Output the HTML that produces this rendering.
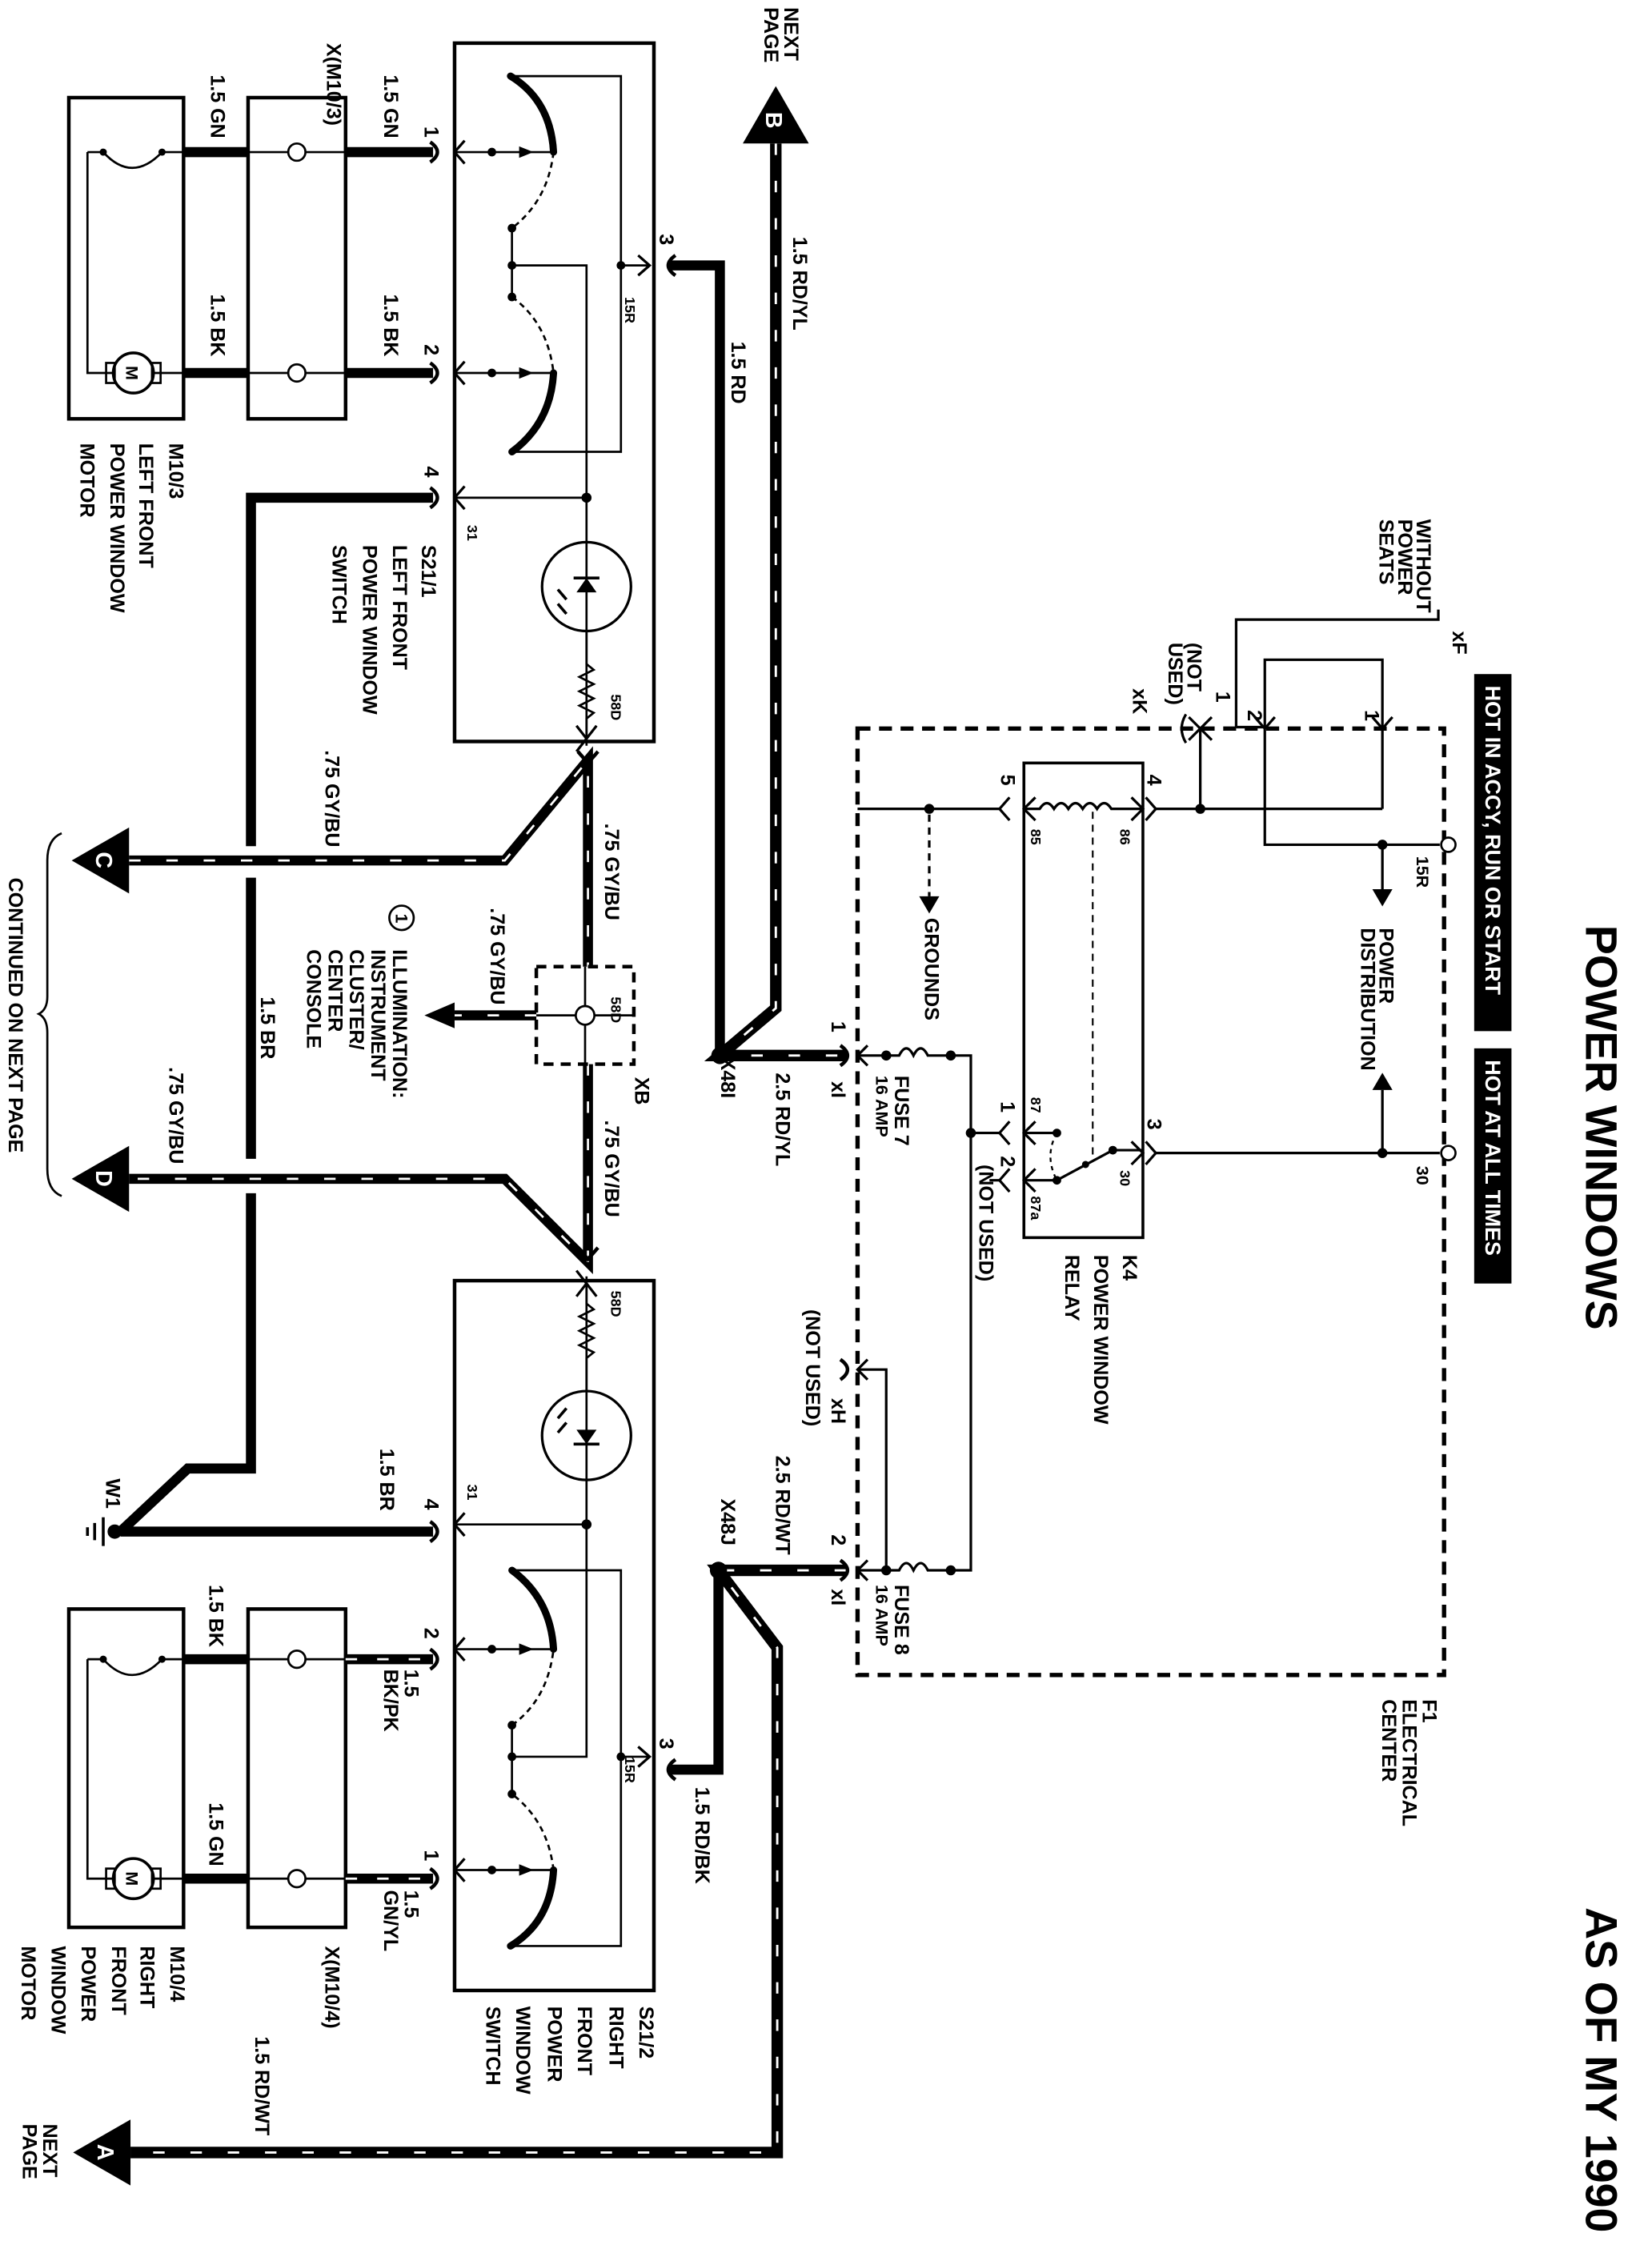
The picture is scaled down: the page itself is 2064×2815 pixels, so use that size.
<!DOCTYPE html>
<html><head><meta charset="utf-8"><style>
html,body{margin:0;padding:0;background:#fff}
svg{display:block}
text{font-family:"Liberation Sans",sans-serif;font-weight:bold;fill:#000}
.t{font-size:14px}.s{font-size:10px}.m{font-size:12px}
.w{fill:#fff}
</style></head><body>
<svg width="2064" height="2815" viewBox="0 0 1152 1571" xmlns="http://www.w3.org/2000/svg" xmlns:xlink="http://www.w3.org/1999/xlink">
<rect width="1152" height="1571" fill="#fff"/>
<defs>
<g id="sw" fill="none" stroke="#000">
  <path d="M356,53 Q384,70 386,106" stroke-width="5" stroke-linecap="round"/>
  <path d="M386,106 Q382,140 357,159" stroke-width="1.5" stroke-dasharray="4 3"/>
  <path d="M357,207 Q382,225 386,260" stroke-width="1.5" stroke-dasharray="4 3"/>
  <path d="M386,260 Q384,295 357,315" stroke-width="5" stroke-linecap="round"/>
  <path d="M357,159 V207 M357,185 H409 V520 M356,53 H433 V315 H357 M433,185 H453 M318,106 H386 M318,260 H386 M318,347 H409" stroke-width="1.5"/>
  <path d="M445,178 L453,185 L445,192 M324,98 L317,106 L324,114 M324,252 L317,260 L324,268 M324,339 L317,347 L324,355 M402,506 L409,515 L402,524 M402,506 L409,515 L416,506" stroke-width="1.8"/>
  <circle cx="409" cy="409" r="31" stroke-width="1.8"/>
  <path d="M402,450 v0 M409,440 V463 l5,4 -10,5 10,5 -10,5 10,5 -10,5 10,5 -5,4 V515" stroke-width="1.5"/>
  <path d="M400,403 h18 M395,418 l-6,-7 M395,428 l-6,-7" stroke-width="2"/>
  <g fill="#000" stroke="none">
    <polygon points="402,413 416,413 409,403"/>
    <circle cx="357" cy="159" r="3"/><circle cx="357" cy="185" r="3"/><circle cx="357" cy="207" r="3"/>
    <circle cx="433" cy="185" r="3"/><circle cx="409" cy="347" r="3.5"/>
    <circle cx="343" cy="106" r="3"/><circle cx="343" cy="260" r="3"/>
    <polygon points="362,102 372,106 362,110"/><polygon points="362,256 372,260 362,264"/>
  </g>
</g>
</defs>

<!-- Titles -->
<text style="font-size:31px" transform="translate(1106,645) rotate(90)">POWER WINDOWS</text>
<text style="font-size:31px" transform="translate(1106,1330) rotate(90)">AS OF MY 1990</text>
<rect x="1028" y="470" width="26" height="249" fill="#000"/>
<rect x="1028" y="731" width="26" height="164" fill="#000"/>
<text class="w" style="font-size:15px" transform="translate(1036,478) rotate(90)">HOT IN ACCY, RUN OR START</text>
<text class="w" style="font-size:15px" transform="translate(1036,739) rotate(90)">HOT AT ALL TIMES</text>

<!-- F1 dashed -->
<rect x="598" y="508" width="409" height="660" fill="none" stroke="#000" stroke-width="3" stroke-dasharray="9 6"/>

<!-- Switch bodies -->
<rect x="317" y="30" width="139" height="487" fill="none" stroke="#000" stroke-width="2.5"/>
<rect x="317" y="893" width="139" height="495" fill="none" stroke="#000" stroke-width="2.5"/>
<use xlink:href="#sw"/>
<use xlink:href="#sw" transform="translate(0,1410) scale(1,-1)"/>

<!-- Motor and connector boxes -->
<g fill="none" stroke="#000" stroke-width="2.5">
<rect x="48" y="68" width="80" height="224"/><rect x="173" y="68" width="68" height="224"/>
<rect x="48" y="1122" width="80" height="222"/><rect x="173" y="1122" width="68" height="222"/>
</g>
<g fill="none" stroke="#000" stroke-width="1.5">
<path d="M61,106 V260 H79 M61,106 H72 Q92,128 113,106 H128 M107,260 H128 M173,106 H241 M173,260 H241"/>
<path d="M61,1157 V1310 H79 M61,1157 H72 Q92,1179 113,1157 H128 M107,1310 H128 M173,1157 H241 M173,1310 H241"/>
<circle cx="93" cy="260" r="14" stroke-width="2"/><circle cx="93" cy="1310" r="14" stroke-width="2"/>
<rect x="74" y="253" width="6" height="14"/><rect x="106" y="253" width="6" height="14"/>
<rect x="74" y="1303" width="6" height="14"/><rect x="106" y="1303" width="6" height="14"/>
</g>
<g fill="#fff" stroke="#000" stroke-width="1.5">
<circle cx="207" cy="106" r="6"/><circle cx="207" cy="260" r="6"/><circle cx="207" cy="1157" r="6"/><circle cx="207" cy="1310" r="6"/>
</g>
<g fill="#000"><circle cx="72" cy="106" r="2.5"/><circle cx="113" cy="106" r="2.5"/><circle cx="72" cy="1157" r="2.5"/><circle cx="113" cy="1157" r="2.5"/></g>
<text class="m" transform="translate(88,255) rotate(90)">M</text>
<text class="m" transform="translate(88,1305) rotate(90)">M</text>

<!-- Thick wires -->
<g fill="none" stroke="#000" stroke-width="7">
<path d="M128,106 H173 M241,106 H302 M128,260 H173 M241,260 H302"/>
<path d="M128,1157 H173 M241,1157 H302 M128,1310 H173 M241,1310 H302"/>
<path d="M302,347 H175 V590 M175,612 V808 M175,832 V1024 H131 L84,1068 M84,1068 H302"/>
<path d="M466,185 H502 V736"/>
<path d="M466,1234 H501 V1095"/>
</g>
<!-- hatched wires -->
<g fill="none" stroke-linejoin="miter">
<path id="h1" d="M541,100 V703 L502,736 H590" stroke="#000" stroke-width="8"/>
<path d="M541,100 V703 L502,736 H590" stroke="#fff" stroke-width="1.6" stroke-dasharray="8 18"/>
<path d="M590,1095 H501 L542,1149 V1501 H91" stroke="#000" stroke-width="8"/>
<path d="M590,1095 H501 L542,1149 V1501 H91" stroke="#fff" stroke-width="1.6" stroke-dasharray="8 18"/>
<path d="M90,600 H352 L410,530 V674 M410,742 V880 L352,822 H90 M374,708 H317" stroke="#000" stroke-width="7"/>
<path d="M90,600 H352 L410,530 V674 M410,742 V880 L352,822 H90 M374,708 H317" stroke="#fff" stroke-width="1.5" stroke-dasharray="8 18"/>
<path d="M241,1157 H302 M241,1310 H302" stroke="#fff" stroke-width="1.5" stroke-dasharray="8 14"/>
</g>
<polygon points="296,708 317,699 317,717" fill="#000"/>
<!-- connector cups -->
<g fill="none" stroke="#000" stroke-width="2.5">
<path d="M300,99 Q310,106 300,113 M300,253 Q310,260 300,267 M300,340 Q310,347 300,354"/>
<path d="M300,1150 Q310,1157 300,1164 M300,1303 Q310,1310 300,1317 M300,1061 Q310,1068 300,1075"/>
<path d="M471,178 Q461,185 471,192 M471,1227 Q461,1234 471,1241"/>
<path d="M403,524 L410,532 L417,524 M403,870 L410,878 L417,870"/>
<path d="M586,729 Q596,736 586,743 M586,1088 Q596,1095 586,1102 M586,948 Q596,955 586,962"/>
</g>
<circle cx="502" cy="736" r="6" fill="#000"/><circle cx="501" cy="1095" r="6" fill="#000"/>
<circle cx="80" cy="1068" r="5" fill="#000"/>
<path d="M72,1058 V1078 M66,1062 V1074 M61,1065 V1071" stroke="#000" stroke-width="2"/>
<!-- XB -->
<rect x="374" y="674" width="68" height="68" fill="none" stroke="#000" stroke-width="2.5" stroke-dasharray="7 5"/>
<path d="M374,708 H442 M408,674 V742" stroke="#000" stroke-width="1.5"/>
<circle cx="408" cy="708" r="6.5" fill="#fff" stroke="#000" stroke-width="1.5"/>

<!-- Arrows -->
<polygon points="50,600 90,577 90,623" fill="#000"/>
<polygon points="50,822 90,799 90,845" fill="#000"/>
<polygon points="51,1501 91,1478 91,1524" fill="#000"/>
<polygon points="541,60 518,100 564,100" fill="#000"/>
<text class="w" style="font-size:16px" transform="translate(67,594) rotate(90)">C</text>
<text class="w" style="font-size:16px" transform="translate(67,816) rotate(90)">D</text>
<text class="w" style="font-size:16px" transform="translate(68,1495) rotate(90)">A</text>
<text class="w" style="font-size:16px" transform="translate(534,78) rotate(90)">B</text>
<path d="M43,581 Q33,585 33,600 V695 Q33,704 27,707 Q33,710 33,720 V815 Q33,830 43,834" fill="none" stroke="#000" stroke-width="1.5"/>

<!-- F1 internals -->
<g fill="none" stroke="#000" stroke-width="1.8">
<path d="M598,564 H698 M648,564 V625" />
<path d="M648,564 V625" stroke="#fff" stroke-width="2" stroke-dasharray="4 5"/>
<path d="M805,564 H964 M837,564 V508 M964,564 V460 H882 V589 H1004 M964,589 V620 M964,804 V760 M805,804 H1004"/>
<path d="M862,507 V432 H1003 V425 M862,507 H882"/>
<path d="M704,556 L697,564 L704,572 M799,556 L806,564 L799,572 M704,782 L697,790 L704,798 M704,815 L697,823 L704,831 M799,796 L806,804 L799,812"/>
<path d="M722,556 L714,564 L722,572 M789,556 L797,564 L789,572 M722,782 L714,790 L722,798 M722,815 L714,823 L722,831 M789,796 L797,804 L789,812"/>
<path d="M714,564 H725 q5,-8 10,0 q5,-8 10,0 q5,-8 10,0 q5,-8 10,0 q5,-8 10,0 H797"/>
<path d="M714,790 H737 M714,823 H737 L776,802 H797"/>
<path d="M737,790 Q728,806 737,823" stroke-width="1.3" stroke-dasharray="3 3"/>
<path d="M762,566 V809" stroke-width="1.2" stroke-dasharray="5 4"/>
<rect x="714" y="532" width="83" height="331" stroke-width="2"/>
<path d="M598,736 H627 q5,-10 10,0 q5,-10 10,0 H677 V1095 H647 q-5,-10 -10,0 q-5,-10 -10,0 H598 M677,790 H698 M698,823 H690"/>
<path d="M598,955 H618 V1095"/>
<path d="M605,729 L598,736 L605,743 M605,1088 L598,1095 L605,1102 M605,948 L598,955 L605,962"/>
<path d="M829,500 L845,516 M845,500 L829,516 M875,500 L882,508 L889,500 M957,500 L964,508 L971,500 M827,498 Q821,508 827,518"/>
</g>
<g fill="#000">
<circle cx="648" cy="564" r="3.5"/><circle cx="837" cy="564" r="3.5"/><circle cx="964" cy="589" r="3.5"/><circle cx="964" cy="804" r="3.5"/>
<circle cx="618" cy="736" r="3.5"/><circle cx="663" cy="736" r="3.5"/><circle cx="677" cy="790" r="3.5"/><circle cx="737" cy="790" r="3"/><circle cx="737" cy="823" r="3"/><circle cx="776" cy="802" r="3"/><circle cx="757" cy="812" r="2.5"/>
<circle cx="618" cy="1095" r="3.5"/><circle cx="663" cy="1095" r="3.5"/>
<polygon points="641,625 655,625 648,637"/>
<polygon points="957,620 971,620 964,632"/>
<polygon points="957,760 971,760 964,748"/>
</g>
<g fill="#fff" stroke="#000" stroke-width="1.5"><circle cx="1010" cy="589" r="5"/><circle cx="1010" cy="804" r="5"/></g>

<!-- Circle 1 -->
<circle cx="280" cy="640" r="8.5" fill="none" stroke="#000" stroke-width="1.5"/>
<text class="m" transform="translate(276,637) rotate(90)">1</text>

<!-- Labels -->
<g class="t">
<text transform="translate(228,30) rotate(90)">X(M10/3)</text>
<text transform="translate(147,52) rotate(90)">1.5 GN</text>
<text transform="translate(268,52) rotate(90)">1.5 GN</text>
<text transform="translate(147,205) rotate(90)">1.5 BK</text>
<text transform="translate(268,205) rotate(90)">1.5 BK</text>
<text transform="translate(296,88) rotate(90)">1</text>
<text transform="translate(296,240) rotate(90)">2</text>
<text transform="translate(296,325) rotate(90)">4</text>
<text transform="translate(460,163) rotate(90)">3</text>
<text transform="translate(118,309) rotate(90)">M10/3</text>
<text transform="translate(97,309) rotate(90)">LEFT FRONT</text>
<text transform="translate(77,309) rotate(90)">POWER WINDOW</text>
<text transform="translate(56,309) rotate(90)">MOTOR</text>
<text transform="translate(294,380) rotate(90)">S21/1</text>
<text transform="translate(274,380) rotate(90)">LEFT FRONT</text>
<text transform="translate(253,380) rotate(90)">POWER WINDOW</text>
<text transform="translate(232,380) rotate(90)">SWITCH</text>
<text transform="translate(227,523) rotate(90)">.75 GY/BU</text>
<text transform="translate(422,574) rotate(90)">.75 GY/BU</text>
<text transform="translate(342,633) rotate(90)">.75 GY/BU</text>
<text transform="translate(182,695) rotate(90)">1.5 BR</text>
<text transform="translate(118,744) rotate(90)">.75 GY/BU</text>
<text transform="translate(443,751) rotate(90)">XB</text>
<text transform="translate(422,781) rotate(90)">.75 GY/BU</text>
<text transform="translate(274,662) rotate(90)">ILLUMINATION:</text>
<text transform="translate(259,662) rotate(90)">INSTRUMENT</text>
<text transform="translate(244,662) rotate(90)">CLUSTER/</text>
<text transform="translate(229,662) rotate(90)">CENTER</text>
<text transform="translate(214,662) rotate(90)">CONSOLE</text>
<text transform="translate(6,612) rotate(90)">CONTINUED ON NEXT PAGE</text>
<text transform="translate(547,5) rotate(90)">NEXT</text>
<text transform="translate(533,5) rotate(90)">PAGE</text>
<text transform="translate(553,165) rotate(90)">1.5 RD/YL</text>
<text transform="translate(510,238) rotate(90)">1.5 RD</text>
<text transform="translate(503,737) rotate(90)">X48I</text>
<text transform="translate(541,748) rotate(90)">2.5 RD/YL</text>
<text transform="translate(580,712) rotate(90)">1</text>
<text transform="translate(580,754) rotate(90)">xI</text>
<text transform="translate(624,750) rotate(90)">FUSE 7</text>
<text class="m" transform="translate(611,750) rotate(90)">16 AMP</text>
<text transform="translate(645,640) rotate(90)">GROUNDS</text>
<text transform="translate(698,540) rotate(90)">5</text>
<text transform="translate(800,540) rotate(90)">4</text>
<text transform="translate(698,768) rotate(90)">1</text>
<text transform="translate(698,806) rotate(90)">2</text>
<text transform="translate(800,780) rotate(90)">3</text>
<text transform="translate(683,812) rotate(90)">(NOT USED)</text>
<text transform="translate(783,875) rotate(90)">K4</text>
<text transform="translate(763,875) rotate(90)">POWER WINDOW</text>
<text transform="translate(743,875) rotate(90)">RELAY</text>
<text transform="translate(962,647) rotate(90)">POWER</text>
<text transform="translate(949,647) rotate(90)">DISTRIBUTION</text>
<text transform="translate(988,362) rotate(90)">WITHOUT</text>
<text transform="translate(975,362) rotate(90)">POWER</text>
<text transform="translate(962,362) rotate(90)">SEATS</text>
<text transform="translate(1013,440) rotate(90)">xF</text>
<text transform="translate(790,480) rotate(90)">xK</text>
<text transform="translate(828,448) rotate(90)">(NOT</text>
<text transform="translate(815,448) rotate(90)">USED)</text>
<text transform="translate(848,482) rotate(90)">1</text>
<text transform="translate(870,495) rotate(90)">2</text>
<text transform="translate(952,495) rotate(90)">1</text>
<text transform="translate(992,1185) rotate(90)">F1</text>
<text transform="translate(978,1185) rotate(90)">ELECTRICAL</text>
<text transform="translate(964,1185) rotate(90)">CENTER</text>
<text transform="translate(562,913) rotate(90)">(NOT USED)</text>
<text transform="translate(580,975) rotate(90)">xH</text>
<text transform="translate(541,1015) rotate(90)">2.5 RD/WT</text>
<text transform="translate(503,1045) rotate(90)">X48J</text>
<text transform="translate(580,1070) rotate(90)">2</text>
<text transform="translate(580,1108) rotate(90)">xI</text>
<text transform="translate(624,1105) rotate(90)">FUSE 8</text>
<text class="m" transform="translate(611,1105) rotate(90)">16 AMP</text>
<text transform="translate(485,1246) rotate(90)">1.5 RD/BK</text>
<text transform="translate(460,1212) rotate(90)">3</text>
<text transform="translate(296,1045) rotate(90)">4</text>
<text transform="translate(265,1010) rotate(90)">1.5 BR</text>
<text transform="translate(74,1031) rotate(90)">W1</text>
<text transform="translate(296,1135) rotate(90)">2</text>
<text transform="translate(282,1164) rotate(90)">1.5</text>
<text transform="translate(268,1164) rotate(90)">BK/PK</text>
<text transform="translate(296,1290) rotate(90)">1</text>
<text transform="translate(282,1318) rotate(90)">1.5</text>
<text transform="translate(268,1318) rotate(90)">GN/YL</text>
<text transform="translate(146,1105) rotate(90)">1.5 BK</text>
<text transform="translate(146,1257) rotate(90)">1.5 GN</text>
<text transform="translate(227,1357) rotate(90)">X(M10/4)</text>
<text transform="translate(119,1357) rotate(90)">M10/4</text>
<text transform="translate(98,1357) rotate(90)">RIGHT</text>
<text transform="translate(78,1357) rotate(90)">FRONT</text>
<text transform="translate(57,1357) rotate(90)">POWER</text>
<text transform="translate(36,1357) rotate(90)">WINDOW</text>
<text transform="translate(15,1357) rotate(90)">MOTOR</text>
<text transform="translate(446,1399) rotate(90)">S21/2</text>
<text transform="translate(425,1399) rotate(90)">RIGHT</text>
<text transform="translate(403,1399) rotate(90)">FRONT</text>
<text transform="translate(382,1399) rotate(90)">POWER</text>
<text transform="translate(360,1399) rotate(90)">WINDOW</text>
<text transform="translate(339,1399) rotate(90)">SWITCH</text>
<text transform="translate(178,1420) rotate(90)">1.5 RD/WT</text>
<text transform="translate(30,1481) rotate(90)">NEXT</text>
<text transform="translate(16,1481) rotate(90)">PAGE</text>
</g>
<g class="s">
<text transform="translate(436,207) rotate(90)">15R</text>
<text transform="translate(326,366) rotate(90)">31</text>
<text transform="translate(426,484) rotate(90)">58D</text>
<text transform="translate(426,695) rotate(90)">58D</text>
<text transform="translate(436,1225) rotate(90)">15R</text>
<text transform="translate(326,1035) rotate(90)">31</text>
<text transform="translate(426,900) rotate(90)">58D</text>
<text transform="translate(719,578) rotate(90)">85</text>
<text transform="translate(781,578) rotate(90)">86</text>
<text transform="translate(719,765) rotate(90)">87</text>
<text transform="translate(719,834) rotate(90)">87a</text>
<text transform="translate(781,816) rotate(90)">30</text>
<text class="m" transform="translate(988,597) rotate(90)">15R</text>
<text class="m" transform="translate(988,813) rotate(90)">30</text>
</g>
</svg>
</body></html>
